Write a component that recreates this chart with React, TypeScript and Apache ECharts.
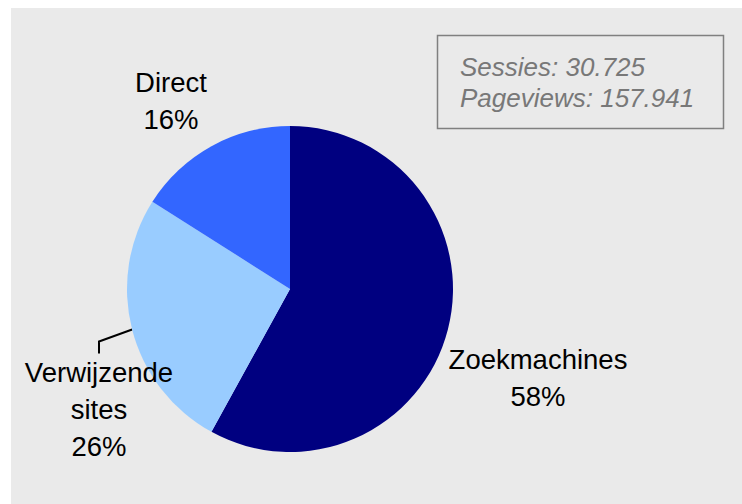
import React, { useEffect, useRef } from "react";
import * as echarts from "echarts";

const categories = ["Zoekmachines", "Verwijzende sites", "Direct"];
const shares = [58, 26, 16];
const colors = ["#000080", "#99CCFF", "#3366FF"];
const infoLines = ["Sessies: 30.725", "Pageviews: 157.941"];

const labelSpots: Record<number, [number, number]> = {
  0: [538, 378],
  1: [99, 409],
  2: [171, 101],
};

export default function App() {
  const ref = useRef<HTMLDivElement>(null);
  useEffect(() => {
    if (!ref.current) return;
    const chart = echarts.init(ref.current, undefined, { renderer: "svg" });
    chart.setOption({
      animation: false,
      backgroundColor: "#FFFFFF",
      graphic: [
        {
          type: "rect",
          z: -10,
          silent: true,
          shape: { x: 11, y: 8, width: 731, height: 496 },
          style: { fill: "#EAEAEA" },
        },
        {
          type: "rect",
          shape: { x: 437.5, y: 35.5, width: 286, height: 93 },
          style: { fill: "none", stroke: "#808080", lineWidth: 1.5 },
        },
        {
          type: "text",
          x: 460,
          y: 51,
          style: {
            text: infoLines.join("\n"),
            font: "italic 26px 'Liberation Sans', Arial, sans-serif",
            fill: "#787878",
            lineHeight: 31,
            verticalAlign: "top",
          },
        },
      ],
      series: [
        {
          type: "pie",
          center: [290, 289],
          radius: 163,
          startAngle: 90,
          clockwise: true,
          percentPrecision: 0,
          avoidLabelOverlap: false,
          label: {
            show: true,
            position: "outside",
            color: "#000000",
            fontFamily: "'Liberation Sans', Arial, sans-serif",
            fontSize: 27.5,
            lineHeight: 37,
            align: "center",
            formatter: (p: any) => p.name.replace(" ", "\n") + "\n" + p.value + "%",
          },
          labelLine: { show: false },
          labelLayout: (p: any) => {
            const s = labelSpots[p.dataIndex];
            return { x: s[0], y: s[1], align: "center", verticalAlign: "middle" };
          },
          emphasis: { disabled: true },
          data: categories.map((name, i) => ({
            name,
            value: shares[i],
            itemStyle: { color: colors[i], borderWidth: 0 },
            labelLine:
              i === 1
                ? { show: true, length: 20, length2: 12, lineStyle: { color: "#000000", width: 2 } }
                : { show: false },
          })),
        },
      ],
    });
    return () => chart.dispose();
  }, []);
  return (
    <div
      ref={ref}
      style={{ position: "absolute", left: 0, top: 0, width: 742, height: 504 }}
    />
  );
}
